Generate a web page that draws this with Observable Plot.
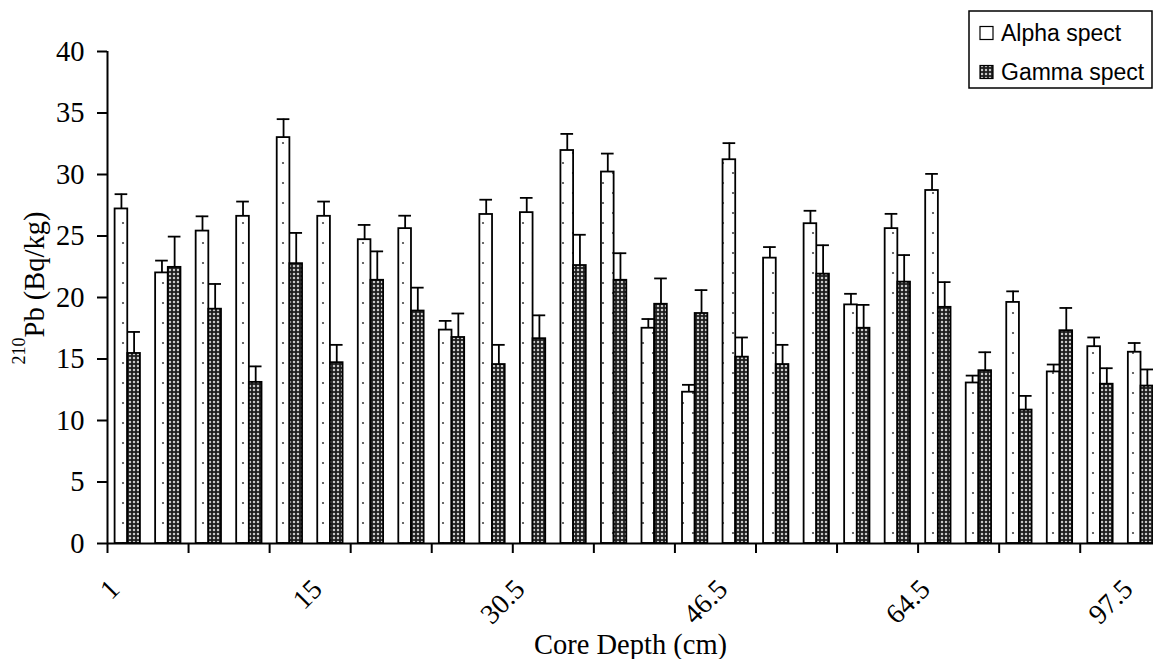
<!DOCTYPE html>
<html>
<head>
<meta charset="utf-8">
<script src="https://cdn.jsdelivr.net/npm/d3@7"></script>
<script src="https://cdn.jsdelivr.net/npm/@observablehq/plot@0.6"></script>
<style>
  html, body { margin: 0; padding: 0; background: #fff; overflow: hidden; }
  #chart svg { display: block; overflow: hidden; }
</style>
</head>
<body>
<div id="chart"></div>
<script>
// ---- data ----
const depthLabels = ["1", "15", "30.5", "46.5", "64.5", "97.5"]; // labelled every 5th sample
const labelEvery = 5;
const seriesNames = ["Alpha spect", "Gamma spect"];
const alpha    = [27.2, 22.0, 25.4, 26.6, 33.0, 26.6, 24.7, 25.6, 17.35, 26.75, 26.9, 31.95, 30.2, 17.5, 12.3, 31.2, 23.2, 26.0, 19.4, 25.6, 28.7, 13.05, 19.6, 13.95, 16.0, 15.55];
const alphaErr = [1.2, 1.0, 1.2, 1.2, 1.5, 1.2, 1.2, 1.05, 0.75, 1.2, 1.2, 1.35, 1.5, 0.75, 0.6, 1.35, 0.9, 1.05, 0.9, 1.2, 1.35, 0.6, 0.9, 0.6, 0.75, 0.75];
const gamma    = [15.45, 22.45, 19.05, 13.1, 22.75, 14.7, 21.4, 18.9, 16.75, 14.55, 16.65, 22.6, 21.4, 19.45, 18.7, 15.15, 14.55, 21.9, 17.5, 21.25, 19.2, 14.05, 10.85, 17.3, 12.95, 12.8];
const gammaErr = [1.75, 2.5, 2.05, 1.3, 2.5, 1.45, 2.35, 1.9, 1.95, 1.6, 1.9, 2.5, 2.2, 2.1, 1.9, 1.6, 1.6, 2.35, 1.9, 2.2, 2.05, 1.5, 1.15, 1.85, 1.3, 1.35];
const yTicks = [0, 5, 10, 15, 20, 25, 30, 35, 40];

// ---- table built from the arrays ----
const n = alpha.length;
const gap = 0.1875, bw = 0.3125;
const rows = [];
for (let i = 0; i < n; i++) {
  rows.push({series: seriesNames[0], i, v: alpha[i], e: alphaErr[i], x1: i + gap, x2: i + gap + bw});
  rows.push({series: seriesNames[1], i, v: gamma[i], e: gammaErr[i], x1: i + gap + bw, x2: i + gap + 2 * bw});
}
const labelRows = depthLabels.map((t, k) => ({t, x: k * labelEvery + 0.5}));

const serif = "'Liberation Serif', 'Times New Roman', serif";
const sans = "'Liberation Sans', Arial, sans-serif";

const plot = Plot.plot({
  width: 1153,
  height: 659,
  marginLeft: 107,
  marginRight: 0,
  marginTop: 51,
  marginBottom: 116,
  style: {fontFamily: serif, background: "#fff", color: "#000"},
  x: {type: "linear", domain: [0, n], range: [107, 107 + n * 40.53], axis: null},
  y: {domain: [0, 40], axis: null},
  marks: [
    Plot.rect(rows, {
      x1: "x1", x2: "x2", y1: () => 0, y2: "v",
      fill: d => d.series === seriesNames[0] ? "url(#patAlpha)" : "url(#patGamma)",
      stroke: "#000", strokeWidth: 1.8
    }),
    // error bars (upper only)
    Plot.ruleX(rows, {x: d => (d.x1 + d.x2) / 2, y1: "v", y2: d => d.v + d.e, stroke: "#000", strokeWidth: 1.8}),
    Plot.ruleY(rows, {y: d => d.v + d.e, x1: "x1", x2: "x2", stroke: "#000", strokeWidth: 1.8}),
    // axes
    Plot.axisY({ticks: yTicks, tickSize: 10, tickPadding: 13, fontSize: 28.5, strokeWidth: 2, label: null, tickFormat: d => String(d)}),
    Plot.ruleX([0], {y1: 0, y2: 40, stroke: "#000", strokeWidth: 2}),
    Plot.ruleY([0], {stroke: "#000", strokeWidth: 2}),
    Plot.axisX({ticks: d3.range(0, n + 1, 2), tickSize: 10, strokeWidth: 2, tickFormat: () => "", label: null}),
    Plot.text(labelRows, {x: "x", y: () => 0, text: "t", rotate: -45, textAnchor: "end", dy: 41, dx: -13, fontSize: 28, fill: "#000"}),
    Plot.text(["Core Depth (cm)"], {frameAnchor: "bottom", dy: 110, fontSize: 28.5, fill: "#000", lineAnchor: "bottom"})
  ]
});

const svg = d3.select(plot);
const defs = svg.insert("defs", ":first-child");
const pa = defs.append("pattern").attr("id", "patAlpha").attr("patternUnits", "userSpaceOnUse")
  .attr("width", 20).attr("height", 20);
pa.append("rect").attr("width", 20).attr("height", 20).attr("fill", "#fff");
pa.append("circle").attr("cx", 3).attr("cy", 3).attr("r", 1.1).attr("fill", "#444");
pa.append("circle").attr("cx", 13).attr("cy", 13).attr("r", 1.1).attr("fill", "#444");
const pg = defs.append("pattern").attr("id", "patGamma").attr("patternUnits", "userSpaceOnUse")
  .attr("width", 4).attr("height", 4);
pg.append("rect").attr("width", 4).attr("height", 4).attr("fill", "#1e1e1e");
pg.append("circle").attr("cx", 2).attr("cy", 2).attr("r", 1.25).attr("fill", "#c8c8c8");

// y-axis title with superscript
const yt = svg.append("text")
  .attr("transform", "translate(44,288) rotate(-90)")
  .attr("text-anchor", "middle")
  .attr("font-family", serif)
  .attr("fill", "#000");
yt.append("tspan").attr("font-size", 18).attr("dy", -19).text("210");
yt.append("tspan").attr("font-size", 28.5).attr("dy", 19).text("Pb (Bq/kg)");

// legend
const lg = svg.append("g").attr("font-family", sans).attr("font-size", 23).attr("text-anchor", "start");
lg.append("rect").attr("x", 969).attr("y", 11).attr("width", 183).attr("height", 77)
  .attr("fill", "#fff").attr("stroke", "#000").attr("stroke-width", 1.5);
seriesNames.forEach((name, k) => {
  const cy = 33 + k * 39;
  lg.append("rect").attr("x", 980).attr("y", cy - 6.5).attr("width", 13).attr("height", 13)
    .attr("fill", k === 0 ? "#fff" : "url(#patGamma)").attr("stroke", "#000").attr("stroke-width", 1.2);
  lg.append("text").attr("x", 1001).attr("y", cy).attr("dy", "0.36em").attr("fill", "#000").text(name);
});

document.getElementById("chart").appendChild(plot);
</script>
</body>
</html>
